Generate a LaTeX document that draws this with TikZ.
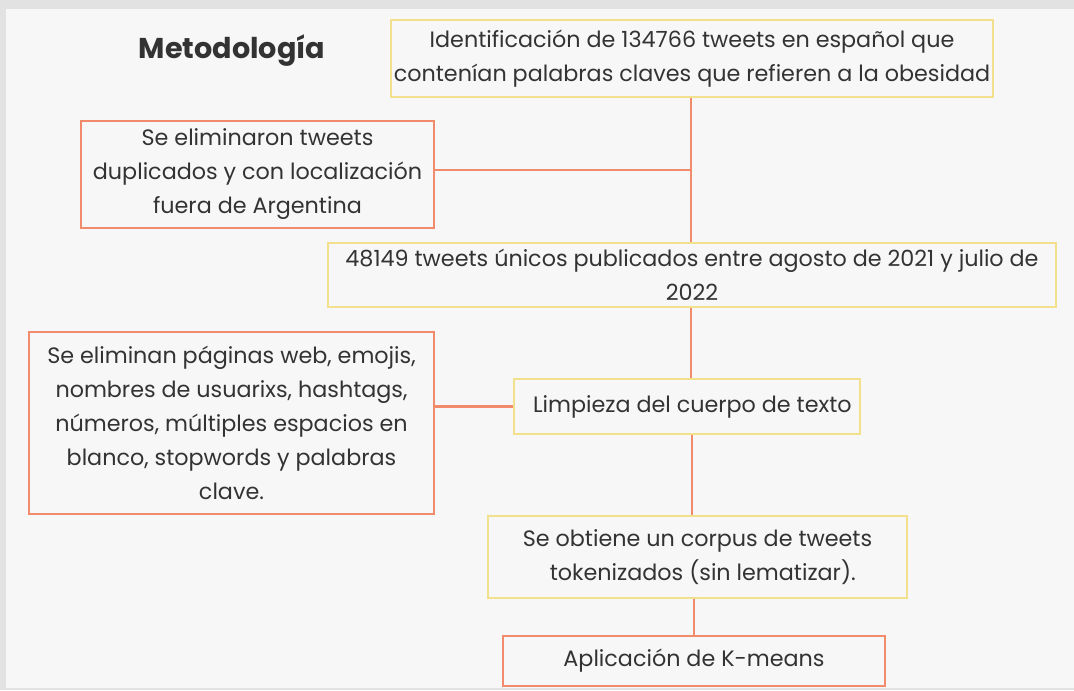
\documentclass[tikz,border=0pt]{standalone}
\usepackage{fontspec}
\setmainfont{Poppins}
\usetikzlibrary{positioning}

\definecolor{framegray}{HTML}{E2E2E2}
\definecolor{pagegray}{HTML}{F7F7F7}
\definecolor{boxyellow}{HTML}{F3E08C}
\definecolor{boxorange}{HTML}{F28A6C}
\definecolor{textdark}{HTML}{333333}

\begin{document}
\begin{tikzpicture}[x=0.75pt, y=-0.75pt,
    yellowbox/.style={rectangle, draw=boxyellow, line width=2.2pt, inner sep=0pt, align=center, text=textdark, font=\fontsize{16.7}{25.5}\selectfont},
    orangebox/.style={rectangle, draw=boxorange, line width=2.2pt, inner sep=0pt, align=center, text=textdark, font=\fontsize{16.7}{25.5}\selectfont},
    link/.style={draw=boxorange, line width=2.2pt}]

% Background
\fill[framegray] (0,0) rectangle (1074,690);
\fill[pagegray] (6,9) rectangle (1074,688);
\useasboundingbox (0,0) rectangle (1074,690);

% Title
\node[text=textdark, font=\fontsize{21.5}{26}\selectfont\bfseries] (title) at (232,51) {Metodología};

% Main steps (yellow)
\node[yellowbox, minimum width=602*0.75pt, minimum height=77*0.75pt] (ident) at (692,58.5) {Identificación de 134766 tweets en español que\\contenían palabras claves que refieren a la obesidad};
\node[yellowbox, minimum width=728*0.75pt, minimum height=64*0.75pt] (unique) at (692,275) {48149 tweets únicos publicados entre agosto de 2021 y julio de\\2022};
\node[yellowbox, minimum width=346*0.75pt, minimum height=55*0.75pt] (clean) at (687,406.5) {\hspace*{8pt}Limpieza del cuerpo de texto};
\node[yellowbox, minimum width=419*0.75pt, minimum height=82*0.75pt] (corpus) at (697.5,557) {Se obtiene un corpus de tweets\\\hspace*{8pt}tokenizados (sin lematizar).};

% Side steps and result (orange)
\node[orangebox, minimum width=353*0.75pt, minimum height=107*0.75pt] (dupl) at (257.5,174.5) {Se eliminaron tweets\\duplicados y con localización\\fuera de Argentina};
\node[orangebox, minimum width=405*0.75pt, minimum height=182*0.75pt] (remove) at (231.5,423) {Se eliminan páginas web, emojis,\\nombres de usuarixs, hashtags,\\números, múltiples espacios en\\blanco, stopwords y palabras\\clave.};
\node[orangebox, minimum width=382*0.75pt, minimum height=50*0.75pt] (kmeans) at (694,661) {Aplicación de K-means};

% Connections
\coordinate (join) at (691,170);
\draw[link] (ident.south -| join) -- (unique.north -| join);
\draw[link] (dupl.east |- join) -- (join);
\draw[link] (unique.south -| join) -- (clean.north -| join);
\draw[link] (remove.east |- clean) -- (clean.west);
\draw[link] (clean.south -| 692,0) -- (corpus.north -| 692,0);
\draw[link] (corpus.south -| 694,0) -- (kmeans.north -| 694,0);

\end{tikzpicture}
\end{document}
